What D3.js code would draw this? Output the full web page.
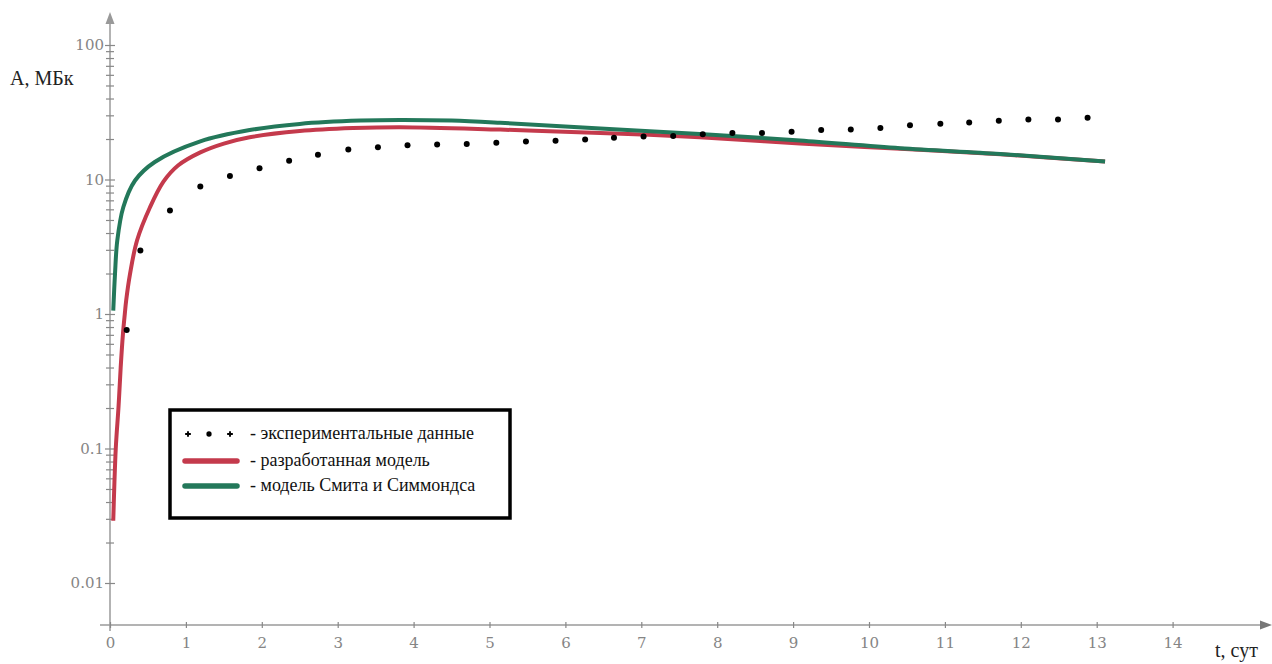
<!DOCTYPE html>
<html>
<head>
<meta charset="utf-8">
<script src="https://cdn.jsdelivr.net/npm/d3@7"></script>
</head>
<body style="margin:0">
<svg id="chart" width="1272" height="664"></svg>
<script>
// experimental points (t, days / A, MBq)
const tExp = [0.22, 0.40, 0.79, 1.19, 1.58, 1.97, 2.36, 2.74, 3.14, 3.53, 3.92, 4.31, 4.70, 5.09, 5.48, 5.87, 6.26, 6.64,
  7.03, 7.42, 7.81, 8.20, 8.59, 8.98, 9.37, 9.76, 10.15, 10.54, 10.94, 11.32, 11.71, 12.10, 12.49, 12.88]
const aExp = [0.76, 2.97, 5.88, 8.87, 10.6, 12.1, 13.8, 15.3, 16.7, 17.4, 18.0, 18.2, 18.4, 18.8, 19.2, 19.4, 19.8, 20.4,
  20.9, 21.1, 21.7, 22.2, 22.2, 22.6, 23.3, 23.5, 24.2, 25.3, 26.0, 26.5, 27.3, 27.9, 27.9, 28.8]

// developed model (red)
const tModel = [0.043, 0.076, 0.112, 0.141, 0.171, 0.195, 0.213, 0.264, 0.356, 0.527, 0.702, 0.896, 1.19, 1.5, 1.84,
  2.5, 3.2, 3.82, 5.14, 6.46, 7.77, 9.09, 10.41, 11.73, 13.11]
const aModel = [0.029, 0.1, 0.203, 0.402, 0.716, 1.0, 1.26, 1.99, 3.52, 6.22, 9.6, 12.7, 15.9, 18.5, 20.6,
  22.9, 24.1, 24.5, 23.5, 22.2, 20.6, 18.5, 16.9, 15.4, 13.6]

// Smith & Simmonds model (green)
const tSmith = [0.043, 0.066, 0.096, 0.175, 0.33, 0.59, 1.19, 1.84, 2.5, 3.3, 3.82, 4.5, 5.14, 6.46, 7.77, 9.09,
  10.41, 11.73, 13.11]
const aSmith = [1.06, 1.99, 3.52, 6.22, 9.83, 13.5, 19.2, 23.3, 25.9, 27.4, 27.7, 27.4, 26.4, 23.9, 21.8, 19.5,
  17.1, 15.5, 13.6]

const xTicks = d3.range(0, 15)
const yTicks = [0.01, 0.1, 1, 10, 100]
const legendLabels = ['- экспериментальные данные', '- разработанная модель', '- модель Смита и Симмондса']

const redColour = '#c43a4c'
const greenColour = '#23785a'
const axisColour = '#9a9a9a'
const labelColour = '#858585'

const svg = d3.select('#chart')

const x = d3.scaleLinear().domain([0, 14]).range([110, 1172.6])
const y = d3.scaleLog().domain([0.01, 100]).range([583, 45])

const originY = 625

// minor log ticks 2..9 for each decade
const yMinor = []
for (let d = -2; d < 2; d++) {
  for (let k = 2; k <= 9; k++) yMinor.push(k * Math.pow(10, d))
}

const axes = svg.append('g').attr('id', 'axes')

// axis lines with arrowheads
axes
  .append('line')
  .attr('x1', 100)
  .attr('x2', 1264)
  .attr('y1', originY)
  .attr('y2', originY)
  .attr('stroke', axisColour)
  .attr('stroke-width', 1.5)
axes
  .append('line')
  .attr('x1', x(0))
  .attr('x2', x(0))
  .attr('y1', originY + 6)
  .attr('y2', 22)
  .attr('stroke', axisColour)
  .attr('stroke-width', 1.5)
axes
  .append('path')
  .attr('d', `M1272,${originY} L1260,${originY - 4.5} L1260,${originY + 4.5} Z`)
  .attr('fill', '#777')
axes
  .append('path')
  .attr('d', `M${x(0)},12 L${x(0) - 4.5},24 L${x(0) + 4.5},24 Z`)
  .attr('fill', '#999')

// x ticks (crossing the axis)
const xAxis = axes
  .append('g')
  .attr('transform', `translate(0, ${originY - 3})`)
  .call(d3.axisBottom(x).tickValues(xTicks).tickSize(6).tickPadding(6).tickFormat(d3.format('d')))
xAxis.attr('font-family', 'DejaVu Serif').attr('font-size', 15)
xAxis.select('.domain').remove()
xAxis.selectAll('line').attr('stroke', '#888').attr('stroke-width', 1.2)
xAxis.selectAll('text').attr('fill', labelColour).attr('dy', '0.95em')

// y ticks: labelled majors and unlabelled minors
const yAxis = axes
  .append('g')
  .attr('transform', `translate(${x(0) + 5}, 0)`)
  .call(d3.axisLeft(y).tickValues(yTicks).tickSize(10).tickPadding(1).tickFormat((d) => String(d)))
yAxis.attr('font-family', 'DejaVu Serif').attr('font-size', 15)
yAxis.select('.domain').remove()
yAxis.selectAll('line').attr('stroke', '#888').attr('stroke-width', 1.2)
yAxis.selectAll('text').attr('fill', labelColour)

const yMinorAxis = axes
  .append('g')
  .attr('transform', `translate(${x(0) + 4}, 0)`)
  .call(d3.axisLeft(y).tickValues(yMinor).tickSize(8).tickFormat(''))
yMinorAxis.select('.domain').remove()
yMinorAxis.selectAll('line').attr('stroke', '#888').attr('stroke-width', 1.2)

// axis titles
svg
  .append('text')
  .attr('x', 10)
  .attr('y', 85)
  .attr('fill', '#222')
  .attr('font-size', 20)
  .attr('font-family', 'Liberation Serif')
  .text('А, МБк')
svg
  .append('text')
  .attr('x', 1215)
  .attr('y', 657)
  .attr('fill', '#222')
  .attr('font-size', 20)
  .attr('font-family', 'Liberation Serif')
  .text('t, сут')

// model curves
const line = d3
  .line()
  .x((d) => x(d[0]))
  .y((d) => y(d[1]))
  .curve(d3.curveCatmullRom.alpha(0.5))

const curves = svg.append('g').attr('id', 'curves').attr('fill', 'none').attr('stroke-width', 4)
curves
  .append('path')
  .datum(d3.zip(tModel, aModel))
  .attr('stroke', redColour)
  .attr('d', line)
curves
  .append('path')
  .datum(d3.zip(tSmith, aSmith))
  .attr('stroke', greenColour)
  .attr('d', line)

// experimental dots
svg
  .append('g')
  .attr('id', 'dots')
  .selectAll('circle')
  .data(d3.zip(tExp, aExp))
  .join('circle')
  .attr('cx', (d) => x(d[0]))
  .attr('cy', (d) => y(d[1]))
  .attr('r', 3)
  .attr('fill', '#000')

// legend
const legend = svg.append('g').attr('id', 'legend')
legend
  .append('rect')
  .attr('x', 170)
  .attr('y', 410)
  .attr('width', 340)
  .attr('height', 108)
  .attr('fill', '#fff')
  .attr('stroke', '#000')
  .attr('stroke-width', 3.5)

const rowY = [434, 461, 486]

legend
  .selectAll('path.sym')
  .data([188, 209, 230])
  .join('path')
  .classed('sym', true)
  .attr('transform', (d) => `translate(${d}, ${rowY[0]})`)
  .attr('d', (d, i) => d3.symbol(i === 1 ? d3.symbolCircle : d3.symbolCross, i === 1 ? 22 : 18)())
  .attr('fill', '#000')

legend
  .selectAll('line.key')
  .data([redColour, greenColour])
  .join('line')
  .classed('key', true)
  .attr('x1', 185)
  .attr('x2', 237)
  .attr('y1', (d, i) => rowY[i + 1])
  .attr('y2', (d, i) => rowY[i + 1])
  .attr('stroke', (d) => d)
  .attr('stroke-width', 5.5)
  .attr('stroke-linecap', 'round')

legend
  .selectAll('text')
  .data(legendLabels)
  .join('text')
  .attr('x', 250)
  .attr('y', (d, i) => rowY[i] + 5)
  .attr('fill', '#111')
  .attr('font-size', 18)
  .attr('font-family', 'Liberation Serif')
  .text((d) => d)
</script>
</body>
</html>
